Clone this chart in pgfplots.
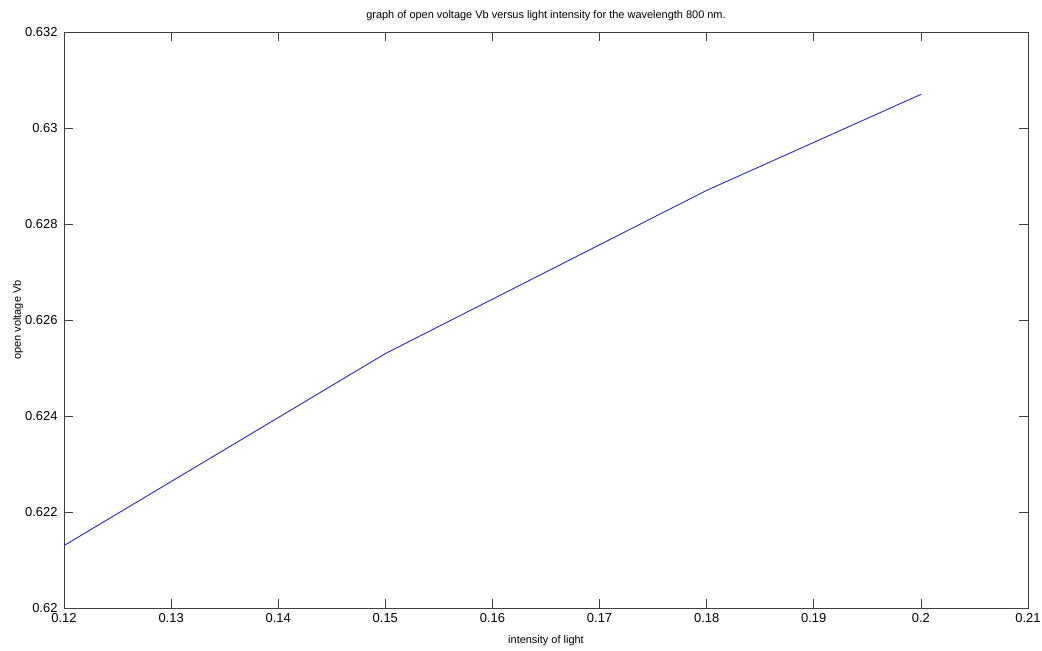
\documentclass[border=0pt]{standalone}
\usepackage{fontspec}
\setmainfont{Liberation Sans}
\usepackage{pgfplots}
\pgfplotsset{compat=1.18}
\begin{document}
\begin{tikzpicture}[x=1bp,y=1bp]
\useasboundingbox (0,0) rectangle (1042,651);
\begin{axis}[
  at={(64bp,43bp)}, anchor=south west,
  width=964bp, height=576bp, scale only axis,
  xmin=0.12, xmax=0.21, ymin=0.62, ymax=0.632,
  xtick={0.12,0.13,0.14,0.15,0.16,0.17,0.18,0.19,0.2,0.21},
  ytick={0.62,0.622,0.624,0.626,0.628,0.63,0.632},
  scaled ticks=false,
  /pgf/number format/.cd, fixed, precision=3, assume math mode=true, /pgfplots/.cd,
  tick align=inside, major tick length=9bp,
  axis line style={black!75, line width=0.8bp},
  tick style={black!75, line width=0.8bp},
  xticklabel style={font=\fontsize{13}{13}\selectfont, yshift=-2bp},
  yticklabel style={font=\fontsize{13}{13}\selectfont, xshift=-3bp},
  title={graph of open voltage Vb versus light intensity for the wavelength 800 nm.},
  title style={font=\fontsize{11}{11}\selectfont, at={(0.5,1)}, anchor=base, yshift=8bp},
  xlabel={intensity of light},
  xlabel style={font=\fontsize{11}{11}\selectfont, at={(0.5,0)}, anchor=base, yshift=-36bp},
  ylabel={open voltage Vb},
  ylabel style={font=\fontsize{11}{11}\selectfont, at={(0,0.5)}, anchor=center, yshift=46bp},
  clip=false,
]
\addplot[color={rgb,255:red,40;green,40;blue,200}, line width=0.9bp] coordinates {
  (0.12,0.6213) (0.15,0.6253) (0.18,0.6287) (0.2,0.6307)
};
\end{axis}
\end{tikzpicture}
\end{document}
